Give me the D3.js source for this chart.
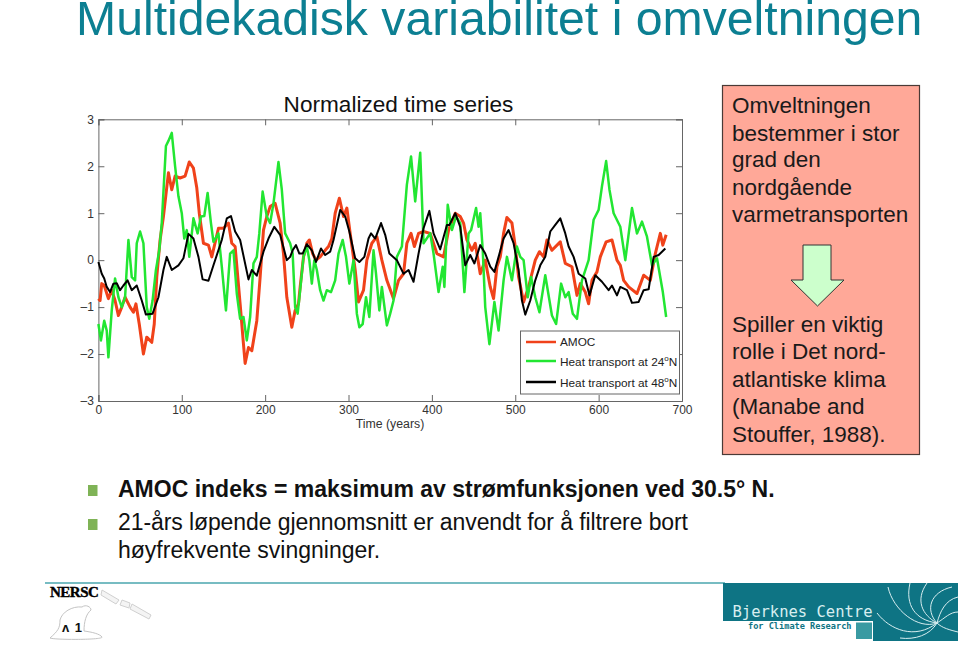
<!DOCTYPE html>
<html><head><meta charset="utf-8">
<script src="https://cdn.jsdelivr.net/npm/d3@7"></script>
<style>html,body{margin:0;padding:0;background:#fff}svg{display:block;font-family:"Liberation Sans",Arial,sans-serif}</style>
</head><body><svg id="c" width="960" height="645"></svg>
<script>
const xTicks=[0,100,200,300,400,500,600,700];
const yTicks=[-3,-2,-1,0,1,2,3];
const amoc=[[0,-0.82],[2,-0.86],[4,-0.5],[7,-0.54],[12,-0.82],[16,-0.64],[20,-0.86],[24,-1.18],[28,-1],[32,-0.79],[38,-1],[42,-1.11],[45,-0.93],[49,-1.36],[54,-2],[58,-1.64],[64,-1.75],[67,-1.36],[70,-0.36],[74,0.43],[78,0.93],[84,1.86],[88,1.5],[92,1.79],[98,1.75],[104,1.79],[109,2.09],[114,1.96],[118,1.54],[121,1],[126,0.36],[132,0.32],[136,0.07],[144,0.68],[150,0.68],[156,0.79],[160,0.36],[164,0.29],[170,-0.93],[174,-1.79],[176,-2.2],[180,-1.86],[184,-1.93],[190,-1.29],[194,-0.36],[198,0.64],[202,0.93],[206,1.14],[212,1.21],[218,0.79],[222,0.14],[226,-0.79],[232,-1.43],[236,-1.07],[240,-0.93],[242,-0.57],[246,0.07],[250,0.36],[253,0.43],[257,0.14],[261,0],[266,0.07],[272,0.21],[276,0.29],[280,0.46],[284,1],[289,1.32],[294,0.93],[298,1.11],[302,0.57],[308,-0.21],[312,-0.89],[318,-0.64],[322,0],[328,0.36],[334,0.5],[340,0],[346,-0.43],[354,-0.82],[360,-0.43],[366,-0.29],[370,0.36],[375,0.57],[379,0.29],[384,0.57],[390,0.61],[398,0.57],[406,0.14],[414,0.07],[420,0.64],[428,1],[434,0.93],[438,0.79],[442,0.43],[448,0.21],[452,0.36],[458,-0.29],[464,0],[470,-0.57],[474,-0.82],[478,-0.14],[482,0.07],[486,0.57],[490,0.91],[496,0.79],[500,0.29],[504,-0.36],[510,-0.89],[516,-0.57],[524,0],[529,0.18],[534,0.07],[538,0.43],[544,0.21],[554,0.39],[560,-0.07],[568,-0.14],[574,-0.75],[578,-0.5],[584,-0.68],[588,-0.93],[592,-0.43],[598,-0.25],[602,0.07],[609,0.39],[616,0.43],[622,0],[626,-0.11],[630,-0.43],[636,-0.57],[646,-0.71],[654,-0.32],[662,-0.43],[668,0.14],[674,0.57],[677,0.32],[681,0.54]];
const heat24=[[0,-1.36],[3,-1.71],[7,-1.29],[10,-1.5],[12,-2.07],[16,-1.07],[20,-0.39],[24,-0.79],[28,-1],[32,-0.79],[36,0.43],[40,-0.36],[44,-0.43],[46,0.36],[50,0.61],[54,0.36],[58,-1],[61,-1.25],[65,-0.86],[69,-0.21],[73,0.21],[76,0.79],[81,2.43],[84,2.54],[88,2.71],[92,2],[96,1.36],[100,1],[103,0.46],[106,0.64],[109,0.07],[114,0.89],[119,0.57],[123,0.93],[127,0.94],[131,1.43],[135,0.79],[138,0.39],[144,0.57],[148,-0.14],[153,-1.07],[158,0.14],[162,0.21],[166,-0.71],[170,-1.25],[174,-1.21],[178,-1.71],[182,-1.21],[186,-0.07],[190,0.07],[193,0.57],[197,1.46],[202,0.93],[206,0.79],[210,1.21],[216,2.09],[220,1.5],[224,0.57],[230,0.36],[233,0.14],[236,-1],[239,-1.14],[242,-0.64],[246,0.07],[250,0.29],[253,0],[256,-0.5],[259,0],[262,-0.21],[266,-0.64],[270,-0.86],[274,-0.64],[279,-0.68],[284,-0.43],[288,0.14],[293,0.43],[297,0.07],[301,-0.5],[306,0],[310,-1.14],[313,-1.43],[317,-1.36],[321,-0.79],[325,-1.21],[330,0.21],[333,-0.29],[337,-1.07],[340,-0.57],[346,-1.39],[350,-1.14],[354,-0.86],[358,0.07],[364,0.29],[370,1.61],[375,2.21],[380,1.25],[386,2.29],[390,0.36],[398,0.57],[402,0.14],[408,-0.68],[413,-0.14],[415,-0.57],[419,1.18],[424,0.64],[429,0.93],[434,0.79],[439,-0.68],[444,0.57],[447,0.64],[453,1.11],[456,0.71],[458,1],[461,0.21],[464,-1],[469,-1.79],[475,-0.89],[480,-1.5],[486,-0.43],[490,0.07],[496,-0.43],[502,0.29],[506,0.07],[510,0],[515,-0.79],[519,-0.36],[524,-0.79],[529,-1.11],[536,-0.32],[544,-1.18],[549,-1.36],[555,-0.5],[560,-0.79],[564,-0.68],[569,-1.14],[574,-1.25],[580,-0.43],[588,0],[594,0.86],[600,1.07],[604,1.57],[609,2.11],[613,1.5],[618,1],[626,0.71],[632,0],[640,1.11],[646,0.57],[652,0.82],[658,0.5],[664,-0.11],[670,0.04],[677,-0.68],[681,-1.21]];
const heat48=[[0,-0.04],[4,-0.29],[7,-0.39],[10,-0.57],[14,-0.68],[18,-0.5],[22,-0.49],[26,-0.64],[30,-0.54],[35,-0.43],[40,-0.64],[46,-0.54],[52,-0.86],[57,-1.16],[65,-1.14],[72,-0.79],[78,-0.21],[82,0.07],[88,-0.21],[96,-0.11],[102,0.04],[108,0.56],[114,0.46],[120,0.07],[125,-0.41],[132,-0.44],[138,-0.11],[148,0.43],[154,0.89],[159,0.94],[164,0.61],[170,0.43],[180,-0.41],[184,-0.21],[190,-0.33],[198,0.18],[204,0.46],[211,0.71],[218,0.54],[226,0],[230,0.07],[233,0.21],[237,0.32],[241,0.14],[245,0.14],[250,0.34],[256,0.21],[261,-0.04],[267,0.25],[272,0.11],[278,0.18],[282,0.43],[290,1.07],[296,0.93],[301,0.61],[308,0.04],[313,-0.04],[319,0.07],[324,0.46],[327,0.57],[332,0.46],[339,0.79],[344,0.54],[349,0.14],[358,0],[366,-0.29],[372,-0.21],[378,-0.46],[384,0.14],[390,0.68],[397,1.05],[402,0.57],[410,0.23],[418,0.75],[421,0.75],[428,1],[434,0.71],[440,-0.11],[446,0.11],[451,-0.07],[458,0.32],[464,0.14],[470,-0.14],[475,-0.25],[480,0.07],[486,0.46],[492,0.64],[498,0.36],[504,-0.21],[508,-0.86],[512,-1.16],[518,-0.86],[524,-0.43],[530,-0.11],[536,0.07],[542,0.61],[548,0.75],[554,0.89],[560,0.57],[564,0.29],[570,0.07],[576,-0.29],[584,-0.39],[589,-0.75],[596,-0.32],[604,-0.46],[612,-0.64],[616,-0.54],[622,-0.75],[626,-0.57],[634,-0.64],[640,-0.91],[648,-0.89],[654,-0.64],[660,-0.62],[666,0.07],[672,0.11],[680,0.25]];
const seriesNames=["AMOC","Heat transport at 24","Heat transport at 48"];
const seriesColors=["#f0421a","#22e632","#000000"];
const panelTop=["Omveltningen","bestemmer i stor","grad den","nordgående","varmetransporten"];
const panelBottom=["Spiller en viktig","rolle i Det nord-","atlantiske klima","(Manabe and","Stouffer, 1988)."];

const svg=d3.select("#c");
const teal="#0e7484";
svg.append("text").attr("x",76).attr("y",35).attr("font-size",48.2).attr("fill","#0c7f92").text("Multidekadisk variabilitet i omveltningen");

const x=d3.scaleLinear().domain([0,700]).range([98.4,682]);
const y=d3.scaleLinear().domain([-3,3]).range([401,119.3]);
const axisCol="#666";
const g=svg.append("g");
g.append("text").attr("x",398.5).attr("y",112).attr("text-anchor","middle").attr("font-size",22.6).attr("fill","#111").text("Normalized time series");

const axL=g.append("g").attr("transform",`translate(${x(0)},0)`).call(d3.axisLeft(y).tickValues(yTicks).tickSize(-6).tickPadding(4.5).tickFormat(d=>d<0?"\u2013"+(-d):d));
const axR=g.append("g").attr("transform",`translate(${x(700)},0)`).call(d3.axisRight(y).tickValues(yTicks).tickSize(-6).tickFormat(""));
const axB=g.append("g").attr("transform",`translate(0,${y(-3)})`).call(d3.axisBottom(x).tickValues(xTicks).tickSize(-6).tickPadding(4.5));
const axT=g.append("g").attr("transform",`translate(0,${y(3)})`).call(d3.axisTop(x).tickValues(xTicks).tickSize(-6).tickFormat(""));
[axL,axR,axB,axT].forEach(a=>{a.selectAll("path,line").attr("stroke",axisCol).attr("stroke-width",1);a.selectAll("text").attr("font-size",12).attr("font-family","Liberation Sans").attr("fill","#333");});
g.append("text").attr("x",390).attr("y",427.5).attr("text-anchor","middle").attr("font-size",12.3).attr("fill","#333").text("Time (years)");

const line=d3.line().x(d=>x(d[0])).y(d=>y(d[1])).curve(d3.curveLinear);
[amoc,heat24,heat48].forEach((s,i)=>g.append("path").datum(s).attr("d",line).attr("fill","none").attr("stroke",seriesColors[i]).attr("stroke-width",[3,2.5,2][i]).attr("stroke-linejoin","round"));
const lg=g.append("g");
lg.append("rect").attr("x",520.5).attr("y",331).attr("width",159).attr("height",63).attr("fill","#fff").attr("stroke",axisCol);
seriesNames.forEach((n,i)=>{
  const yy=[342,361,382][i];
  lg.append("line").attr("x1",526).attr("x2",556).attr("y1",yy).attr("y2",yy).attr("stroke",seriesColors[i]).attr("stroke-width",2.5);
  const t=lg.append("text").attr("x",560).attr("y",[346,366,387][i]).attr("font-size",11.8).attr("fill","#222").text(n);
  if(i>0){t.append("tspan").attr("dy",-5).attr("font-size",8).text("o");t.append("tspan").attr("dy",5).text("N");}
});

// side panel
svg.append("rect").attr("x",722.5).attr("y",85.5).attr("width",197).attr("height",369).attr("fill","#ffa898").attr("stroke","#4a3a36").attr("stroke-width",1.2);
panelTop.forEach((t,i)=>svg.append("text").attr("x",732).attr("y",[113,141,167,195,222][i]).attr("font-size",22.5).attr("fill","#1a1a1a").text(t));
panelBottom.forEach((t,i)=>svg.append("text").attr("x",732).attr("y",[332,359,387,414,442][i]).attr("font-size",22.5).attr("fill","#1a1a1a").text(t));
svg.append("path").attr("d",d3.line()([[803,245],[831,245],[831,280],[844,280],[817.5,306],[791,280],[803,280]])+"Z").attr("fill","#ccffcc").attr("stroke","#333").attr("stroke-width",1);

// bullets
[485,519].forEach(b=>svg.append("rect").attr("x",88).attr("y",b).attr("width",9.5).attr("height",11).attr("fill","#7fb356"));
svg.append("text").attr("x",118).attr("y",496.5).attr("font-size",23).attr("font-weight","bold").attr("fill","#111").text("AMOC indeks = maksimum av strømfunksjonen ved 30.5° N.");
svg.append("text").attr("x",118).attr("y",530).attr("font-size",23).attr("fill","#111").text("21-års løpende gjennomsnitt er anvendt for å filtrere bort").attr("textLength",570);
svg.append("text").attr("x",118).attr("y",557.5).attr("font-size",23).attr("fill","#111").text("høyfrekvente svingninger.");

// footer
svg.append("line").attr("x1",45).attr("x2",725).attr("y1",583).attr("y2",583).attr("stroke","#4aa6ae").attr("stroke-width",1.5);
svg.append("text").attr("x",50).attr("y",597).attr("font-family","Liberation Serif").attr("font-weight","bold").attr("font-size",15).attr("letter-spacing",-0.5).attr("stroke","#000").attr("stroke-width",0.4).text("NERSC");
// satellite
svg.append("path").attr("d","M102,590L119,600L116,604L101,595ZM122,600L130,603L129,608L120,605ZM132,604L151,615L149,619L130,609Z").attr("fill","#f4f4f4").attr("stroke","#d0d0d0");
// bear
svg.append("path").attr("d","M50,638C58,631 60,628 60,620C62,612 72,606 82,607C86,604 91,607 91,610C86,614 84,622 84,631C92,632 100,634 102,637C104,640 54,640 50,638Z").attr("fill","#fff").attr("stroke","#c4c4c4");
svg.append("text").attr("x",62).attr("y",632).attr("font-size",13).attr("font-weight","bold").attr("letter-spacing",1).attr("fill","#111").text("\u028C 1");
// Bjerknes
svg.append("path").attr("d","M723,583H958V641H873V621H723Z").attr("fill",teal);
svg.append("text").attr("x",732.5).attr("y",617).attr("font-family","DejaVu Sans Mono").attr("font-size",15.5).attr("fill","#d8eef0").text("Bjerknes Centre");
svg.append("text").attr("x",748).attr("y",629).attr("font-family","DejaVu Sans Mono").attr("font-weight","bold").attr("font-size",8.6).attr("fill",teal).text("for Climate Research");
svg.append("rect").attr("x",856).attr("y",622.5).attr("width",16).attr("height",16.5).attr("fill","#3a9aa2");
const swirl=["M888,587C893,610 918,630 937,623","M910,583C905,605 915,620 937,623","M927,583C915,600 922,615 937,623","M952,587C930,592 925,610 937,623","M958,597C945,600 940,612 937,623","M958,612C950,612 945,618 937,623","M877,613C890,630 915,640 937,623","M900,638C915,640 930,635 937,623","M958,632C950,630 942,628 937,623"];
swirl.forEach(d=>svg.append("path").attr("d",d).attr("fill","none").attr("stroke","#d8eef0").attr("stroke-width",1));
</script></body></html>
